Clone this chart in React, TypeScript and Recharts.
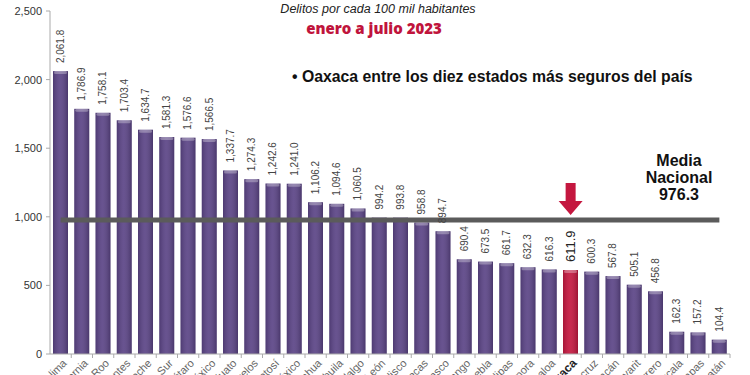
import { BarChart, Bar, XAxis, YAxis, Cell, LabelList, ReferenceLine, ReferenceDot } from "recharts";

const STATES = [
  "Colima", "Baja California", "Quintana Roo", "Aguascalientes", "Campeche",
  "Baja California Sur", "Querétaro", "Estado de México", "Guanajuato", "Morelos",
  "San Luis Potosí", "Ciudad de México", "Chihuahua", "Coahuila", "Hidalgo",
  "Nuevo León", "Jalisco", "Zacatecas", "Tabasco", "Durango", "Puebla",
  "Tamaulipas", "Sonora", "Sinaloa", "Oaxaca", "Veracruz", "Michoacán",
  "Nayarit", "Guerrero", "Tlaxcala", "Chiapas", "Yucatán",
];
const RATES = [
  2061.8, 1786.9, 1758.1, 1703.4, 1634.7, 1581.3, 1576.6, 1566.5, 1337.7, 1274.3,
  1242.6, 1241.0, 1106.2, 1094.6, 1060.5, 994.2, 993.8, 958.8, 894.7, 690.4,
  673.5, 661.7, 632.3, 616.3, 611.9, 600.3, 567.8, 505.1, 456.8, 162.3, 157.2, 104.4,
];
const Y_TICKS = [0, 500, 1000, 1500, 2000, 2500];
const MEDIA = 976.3;
const HIGHLIGHT = "Oaxaca";

const data = STATES.map((s, i) => ({ state: s, rate: RATES[i] }));

const PURPLE = "#5b4486";
const RED = "#c4173f";
const FONT = "'Liberation Sans', Arial, sans-serif";
const BAND = 680 / STATES.length;

const fmt = (v: number, d = 0) =>
  v.toLocaleString("en-US", { minimumFractionDigits: d, maximumFractionDigits: d });

function BarShape(props: any) {
  const { x, y, width, height, fill } = props;
  if (height <= 0) return null;
  return (
    <g>
      <rect x={x} y={y} width={width} height={height} fill={fill} />
      <rect x={x} y={y} width={width} height={height} fill="url(#shade)" />
      <rect x={x + 1} y={y} width={width - 2} height={3} rx={1.5} fill="#ffffff" opacity={0.3} />
    </g>
  );
}

function ValueLabel(props: any) {
  const { x, y, width, value, index } = props;
  const big = STATES[index] === HIGHLIGHT;
  const cx = x + width / 2;
  return (
    <text
      x={cx}
      y={y - 8}
      transform={`rotate(-90 ${cx} ${y - 8})`}
      textAnchor="start"
      dominantBaseline="central"
      fontSize={big ? 13 : 10}
      fill={big ? "#222" : "#444"}
      fontFamily={FONT}
    >
      {fmt(value, 1)}
    </text>
  );
}

function StateTick(props: any) {
  const { x, y, payload } = props;
  const big = payload.value === HIGHLIGHT;
  const tx = x + 4;
  const ty = y + 7;
  return (
    <g>
      <line x1={x + BAND / 2} x2={x + BAND / 2} y1={y} y2={y + 4} stroke="#aaa" />
      <text
        x={tx}
        y={ty}
        transform={`rotate(-45 ${tx} ${ty})`}
        textAnchor="end"
        dominantBaseline="central"
        fontSize={big ? 12 : 11}
        fontWeight={big ? 700 : 400}
        fill={big ? "#222" : "#666"}
        fontFamily={FONT}
      >
        {payload.value}
      </text>
    </g>
  );
}

function Arrow(props: any) {
  const { cx, cy } = props;
  return (
    <polygon
      points={`${cx - 5},${cy - 16} ${cx + 5},${cy - 16} ${cx + 5},${cy + 2} ${cx + 12},${cy + 2} ${cx},${cy + 16} ${cx - 12},${cy + 2} ${cx - 5},${cy + 2}`}
      fill={RED}
    />
  );
}

export default function App() {
  return (
    <div
      style={{
        position: "absolute",
        left: 0,
        top: 0,
        width: 750,
        height: 375,
        overflow: "hidden",
        background: "white",
        fontFamily: FONT,
      }}
    >
      <BarChart width={750} height={375} data={data} margin={{ top: 11, right: 20, bottom: 0, left: 0 }} barSize={15}>
        <defs>
          <linearGradient id="shade" x1="0" y1="0" x2="1" y2="0">
            <stop offset="0%" stopColor="#000" stopOpacity={0.15} />
            <stop offset="45%" stopColor="#fff" stopOpacity={0.08} />
            <stop offset="100%" stopColor="#000" stopOpacity={0.2} />
          </linearGradient>
        </defs>
        <XAxis
          dataKey="state"
          interval={0}
          height={21}
          tickLine={false}
          tickSize={0}
          tickMargin={0}
          axisLine={{ stroke: "#aaa" }}
          tick={<StateTick />}
        />
        <YAxis
          width={50}
          domain={[0, 2500]}
          ticks={Y_TICKS}
          tickFormatter={(v) => fmt(v)}
          tickSize={4}
          tickMargin={4}
          axisLine={{ stroke: "#aaa" }}
          tickLine={{ stroke: "#aaa" }}
          tick={{ fontSize: 11, fill: "#333", fontFamily: FONT }}
        />
        <Bar dataKey="rate" isAnimationActive={false} shape={<BarShape />}>
          {data.map((d) => (
            <Cell key={d.state} fill={d.state === HIGHLIGHT ? RED : PURPLE} />
          ))}
          <LabelList dataKey="rate" content={<ValueLabel />} />
        </Bar>
        <ReferenceLine
          segment={[
            { x: STATES[0], y: MEDIA },
            { x: STATES[STATES.length - 1], y: MEDIA },
          ]}
          stroke="#5b5b5b"
          strokeWidth={5}
        />
        <ReferenceDot x={HIGHLIGHT} y={1130} r={0} shape={<Arrow />} />
      </BarChart>

      <div
        style={{
          position: "absolute",
          left: 0,
          width: 756,
          top: 2,
          textAlign: "center",
          fontStyle: "italic",
          fontSize: 12.5,
          color: "#222",
        }}
      >
        Delitos por cada 100 mil habitantes
      </div>
      <div
        style={{
          position: "absolute",
          left: 0,
          width: 748,
          top: 18,
          textAlign: "center",
          fontWeight: 800,
          fontSize: 15,
          color: "#c0143c",
          fontFamily: "'Open Sans', sans-serif",
        }}
      >
        enero a julio 2023
      </div>
      <div
        style={{
          position: "absolute",
          left: 292,
          top: 68,
          fontWeight: 700,
          fontSize: 15.8,
          color: "#111",
          whiteSpace: "nowrap",
        }}
      >
        • Oaxaca entre los diez estados más seguros del país
      </div>
      <div
        style={{
          position: "absolute",
          left: 619,
          width: 120,
          top: 152,
          textAlign: "center",
          fontWeight: 700,
          fontSize: 16,
          lineHeight: "17px",
          color: "#111",
        }}
      >
        Media
        <br />
        Nacional
        <br />
        {MEDIA}
      </div>
    </div>
  );
}
